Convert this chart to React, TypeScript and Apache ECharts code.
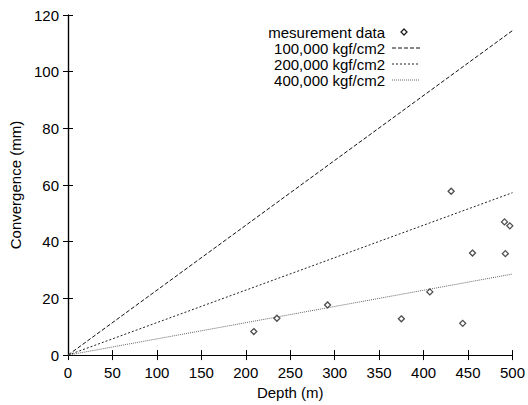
import React, { useEffect, useRef } from "react";
import * as echarts from "echarts";

const depth = [209, 235, 292, 375, 407, 431, 444, 455, 491, 497, 492];
const convergence = [8.3, 13.0, 17.7, 12.8, 22.3, 57.8, 11.2, 36, 47, 45.6, 35.8];
const lineDepth = [0, 500];
const line100k = [0, 114.5];
const line200k = [0, 57.3];
const line400k = [0, 28.6];
const seriesNames = ["mesurement data", "100,000 kgf/cm2", "200,000 kgf/cm2", "400,000 kgf/cm2"];

const FONT = "Liberation Sans";
const FS = 15;

export default function App() {
  const ref = useRef<HTMLDivElement>(null);
  useEffect(() => {
    const chart = echarts.init(ref.current!, null, { renderer: "svg" });
    const pair = (ys: number[]) => lineDepth.map((x, i) => [x, ys[i]]);
    const axisCommon = {
      type: "value" as const,
      axisLine: { show: true, lineStyle: { color: "#000", width: 1.2 } },
      axisTick: { show: true, inside: true, length: 5, lineStyle: { color: "#000" } },
      splitLine: { show: false },
    };
    const lineStyles = [
      { color: "#111", width: 1, type: [4, 2] },
      { color: "#222", width: 1, type: [2, 2] },
      { color: "#666", width: 1, type: [1, 1] },
    ];
    const legendTextX = 385;
    const legendRowY = [32, 48, 64, 80];
    const legendEls: any[] = [];
    seriesNames.forEach((name, i) => {
      legendEls.push({
        type: "text",
        x: legendTextX,
        y: legendRowY[i],
        style: {
          text: name,
          fill: "#000",
          font: `${FS}px "${FONT}"`,
          align: "right",
          verticalAlign: "middle",
        },
      });
      if (i === 0) {
        const cx = 404;
        const cy = legendRowY[i];
        legendEls.push({
          type: "polygon",
          shape: { points: [[cx, cy - 3], [cx + 3, cy], [cx, cy + 3], [cx - 3, cy]] },
          style: { fill: "#fff", stroke: "#222", lineWidth: 1.3 },
        });
      } else {
        const ls = lineStyles[i - 1];
        legendEls.push({
          type: "line",
          shape: { x1: 392, y1: legendRowY[i], x2: 420, y2: legendRowY[i] },
          style: { stroke: ls.color, lineWidth: 1, lineDash: ls.type },
        });
      }
    });
    chart.setOption({
      animation: false,
      backgroundColor: "#fff",
      textStyle: { fontFamily: FONT, color: "#000" },
      grid: { left: 68, right: 15, top: 15, bottom: 47 },
      graphic: legendEls,
      xAxis: [
        {
          ...axisCommon,
          min: 0,
          max: 500,
          interval: 50,
          name: "Depth (m)",
          nameLocation: "middle",
          nameGap: 29,
          nameTextStyle: { fontFamily: FONT, fontSize: FS, color: "#000" },
          axisLabel: { fontFamily: FONT, fontSize: FS, color: "#000", margin: 10 },
        },
        {
          ...axisCommon,
          position: "top",
          min: 0,
          max: 500,
          interval: 50,
          axisLabel: { show: false },
        },
      ],
      yAxis: [
        {
          ...axisCommon,
          min: 0,
          max: 120,
          interval: 20,
          name: "Convergence (mm)",
          nameLocation: "middle",
          nameGap: 42,
          nameTextStyle: { fontFamily: FONT, fontSize: FS, color: "#000" },
          axisLabel: { fontFamily: FONT, fontSize: FS, color: "#000", margin: 9 },
        },
        {
          ...axisCommon,
          position: "right",
          min: 0,
          max: 120,
          interval: 20,
          axisLabel: { show: false },
        },
      ],
      series: [
        {
          name: seriesNames[0],
          type: "scatter",
          symbol: "diamond",
          symbolSize: 6,
          itemStyle: { color: "#fff", borderColor: "#222", borderWidth: 1.3 },
          data: depth.map((d, i) => [d, convergence[i]]),
          z: 5,
        },
        {
          name: seriesNames[1],
          type: "line",
          showSymbol: false,
          symbol: "none",
          lineStyle: lineStyles[0],
          data: pair(line100k),
        },
        {
          name: seriesNames[2],
          type: "line",
          showSymbol: false,
          symbol: "none",
          lineStyle: lineStyles[1],
          data: pair(line200k),
        },
        {
          name: seriesNames[3],
          type: "line",
          showSymbol: false,
          symbol: "none",
          lineStyle: lineStyles[2],
          data: pair(line400k),
        },
      ],
    });
    return () => chart.dispose();
  }, []);
  return (
    <div
      ref={ref}
      style={{ position: "absolute", left: 0, top: 0, width: 528, height: 405 }}
    />
  );
}
